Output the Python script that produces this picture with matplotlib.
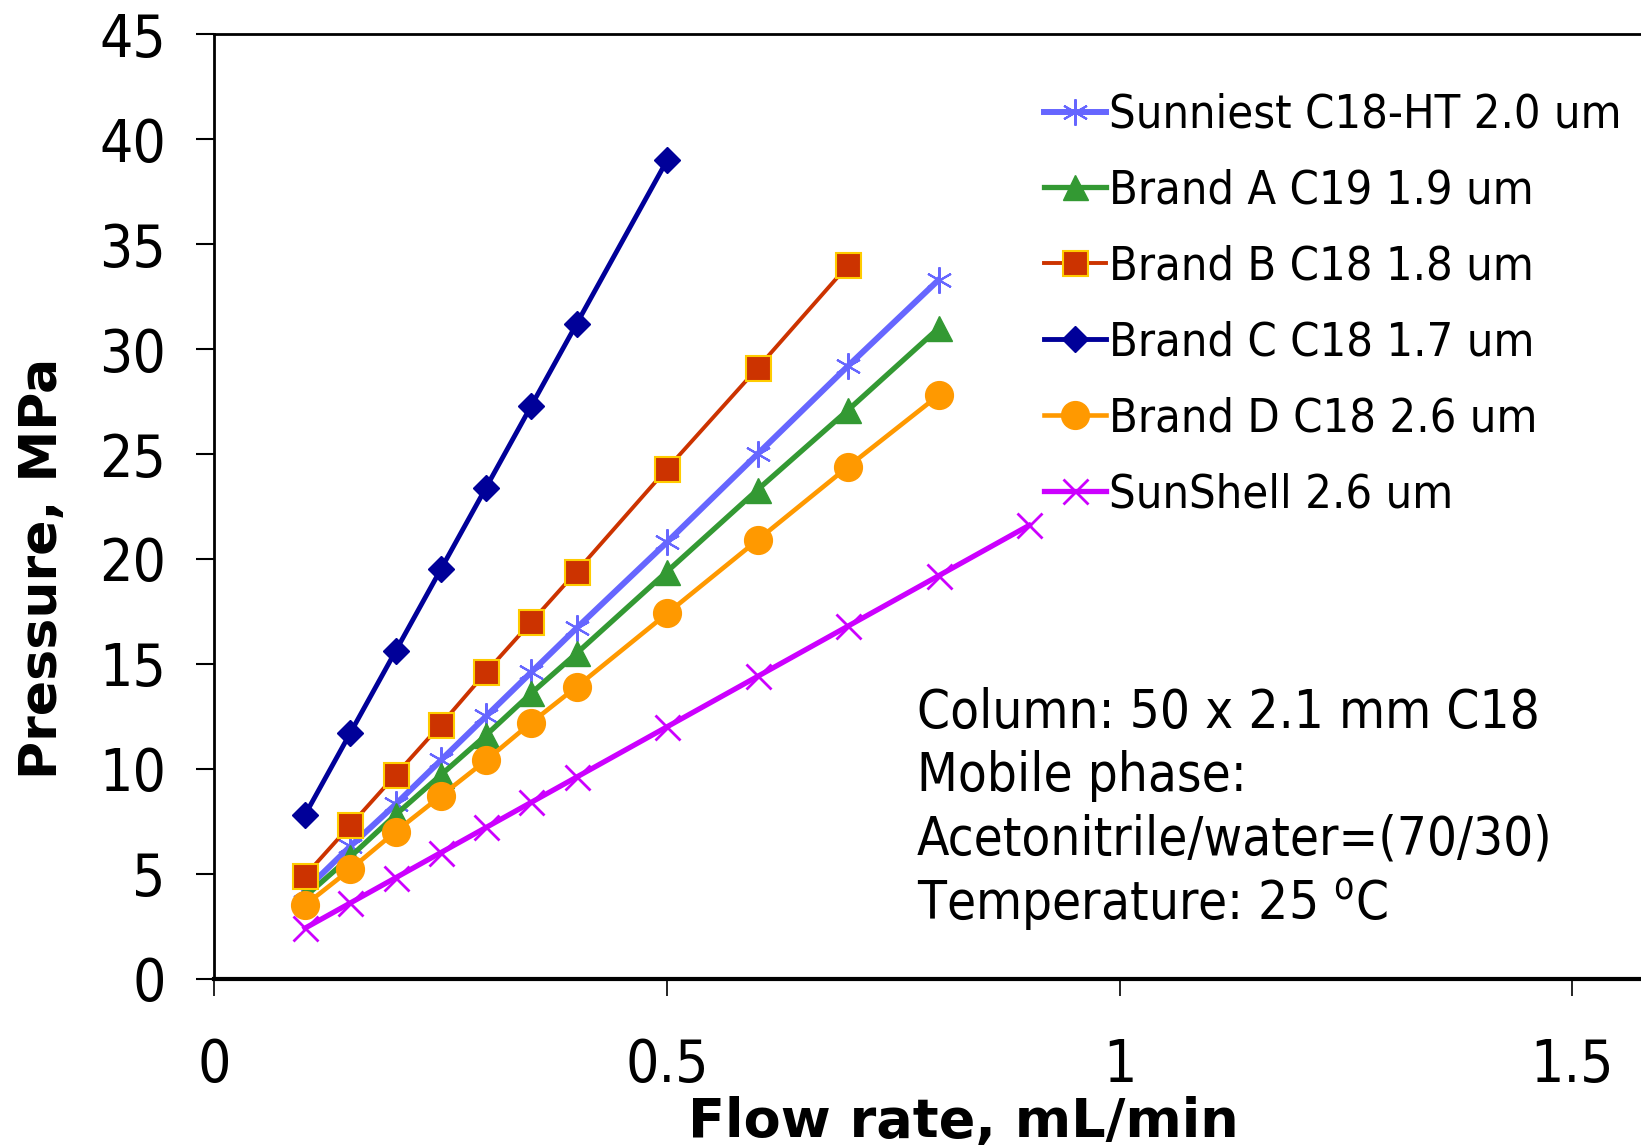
import matplotlib
matplotlib.use("Agg")
import matplotlib.pyplot as plt

plt.rcParams['font.family'] = ['DejaVu Sans']
plt.rcParams['font.stretch'] = 'condensed'

# flow rates (mL/min)
flow_c = [0.1, 0.15, 0.2, 0.25, 0.3, 0.35, 0.4, 0.5]
flow_b = [0.1, 0.15, 0.2, 0.25, 0.3, 0.35, 0.4, 0.5, 0.6, 0.7]
flow_8 = [0.1, 0.15, 0.2, 0.25, 0.3, 0.35, 0.4, 0.5, 0.6, 0.7, 0.8]
flow_ss = [0.1, 0.15, 0.2, 0.25, 0.3, 0.35, 0.4, 0.5, 0.6, 0.7, 0.8, 0.9]

# pressures (MPa)
sunniest = [4.2, 6.3, 8.3, 10.4, 12.5, 14.6, 16.7, 20.8, 25.0, 29.2, 33.3]
brand_a = [3.9, 5.8, 7.8, 9.7, 11.6, 13.6, 15.5, 19.4, 23.3, 27.1, 31.0]
brand_b = [4.9, 7.3, 9.7, 12.1, 14.6, 17.0, 19.4, 24.3, 29.1, 34.0]
brand_c = [7.8, 11.7, 15.6, 19.5, 23.4, 27.3, 31.2, 39.0]
brand_d = [3.5, 5.2, 7.0, 8.7, 10.4, 12.2, 13.9, 17.4, 20.9, 24.4, 27.8]
sunshell = [2.4, 3.6, 4.8, 6.0, 7.2, 8.4, 9.6, 12.0, 14.4, 16.8, 19.2, 21.6]

labels = ["Sunniest C18-HT 2.0 um", "Brand A C19 1.9 um", "Brand B C18 1.8 um",
          "Brand C C18 1.7 um", "Brand D C18 2.6 um", "SunShell 2.6 um"]

fig = plt.figure(figsize=(16.41, 11.48), dpi=100)
ax = fig.add_axes([0.1307, 0.1476, 0.8693, 0.8224])

asterisk = (6, 2, 0)
ax.plot(flow_8, sunniest, color="#6666FF", lw=4.3, marker=asterisk, ms=19, mew=1.5, label=labels[0], zorder=3)
ax.plot(flow_8, brand_a, color="#339933", lw=3.8, marker="^", ms=18, label=labels[1], zorder=3)
ax.plot(flow_b, brand_b, color="#CC3300", lw=2.8, marker="s", ms=18, mfc="#CC3300", mec="#FFCC00", mew=1.5, label=labels[2], zorder=3)
ax.plot(flow_c, brand_c, color="#000099", lw=3.5, marker="D", ms=13, label=labels[3], zorder=3)
ax.plot(flow_8, brand_d, color="#FF9900", lw=3.3, marker="o", ms=20, label=labels[4], zorder=3)
ax.plot(flow_ss, sunshell, color="#CC00FF", lw=3.8, marker="x", ms=18, mew=2, label=labels[5], zorder=3)

ax.set_xlim(0, 1.576)
ax.set_ylim(0, 45)
ax.set_xticks([0, 0.5, 1, 1.5])
ax.set_xticklabels(["0", "0.5", "1", "1.5"])
ax.set_yticks(range(0, 50, 5))

ax.spines["right"].set_visible(False)
ax.spines["left"].set_linewidth(2)
ax.spines["top"].set_linewidth(2)
ax.spines["bottom"].set_linewidth(3)
ax.tick_params(axis="y", direction="out", length=13, width=1.5, labelsize=42, pad=22)
ax.tick_params(axis="x", direction="out", length=12, width=1.2, labelsize=42, pad=30)

fig.text(0.026, 0.505, "Pressure, MPa", fontsize=37.5, fontweight="bold", fontstretch="normal",
         rotation=90, ha="center", va="center")
fig.text(0.587, 0.010, "Flow rate, mL/min", fontsize=39, fontweight="bold", fontstretch="normal",
         ha="center", va="baseline")

ax.text(0.776, 13.9, "Column: 50 x 2.1 mm C18\nMobile phase:\nAcetonitrile/water=(70/30)\nTemperature: 25 $^\\mathregular{o}$C",
        fontsize=38, va="top", ha="left", linespacing=1.27)

leg = ax.legend(loc="upper left", bbox_to_anchor=(0.636, 0.919), bbox_transform=fig.transFigure,
                frameon=False, fontsize=33.7, handlelength=1.34, handletextpad=0.05,
                labelspacing=0.66, borderpad=0, borderaxespad=0)

fig.savefig("out.png", dpi=100)
